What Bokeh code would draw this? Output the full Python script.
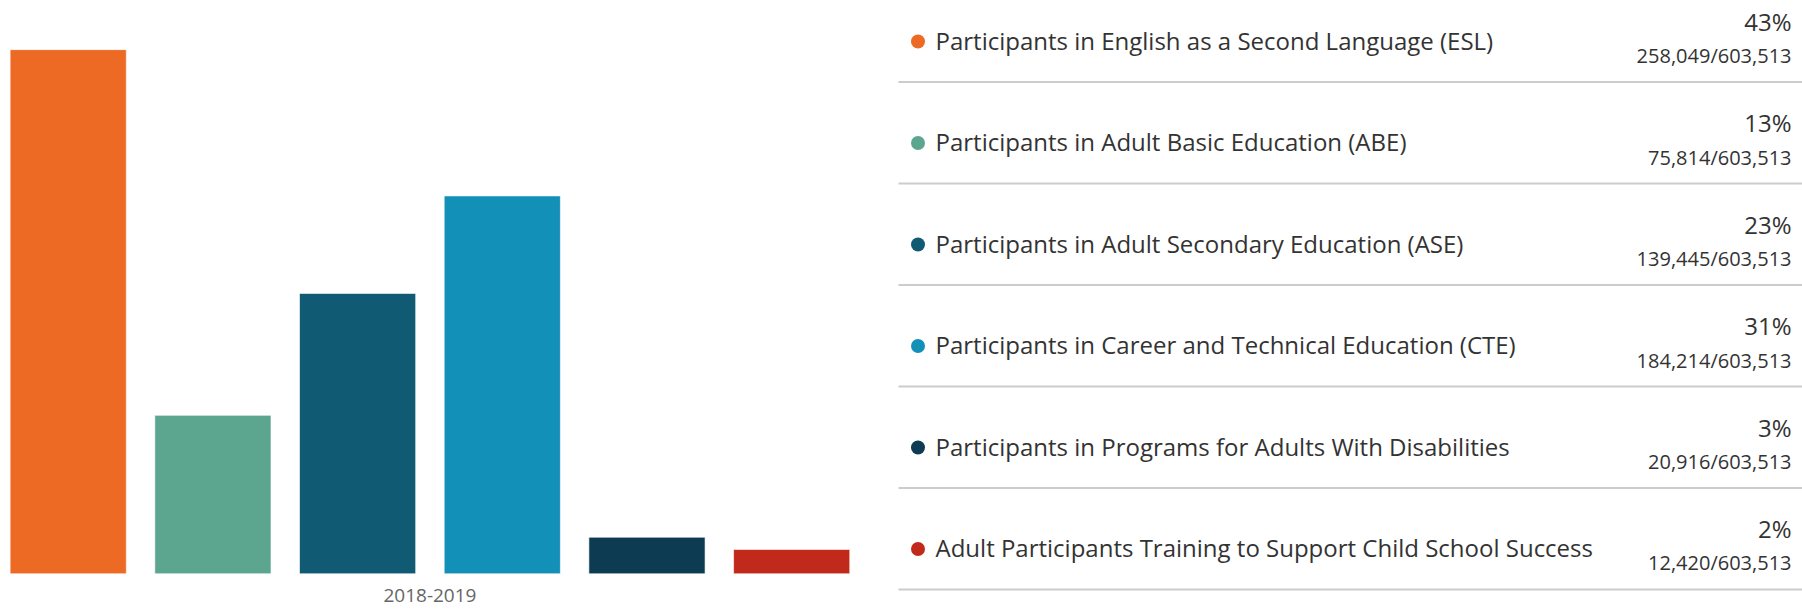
from bokeh.plotting import figure
from bokeh.layouts import row
from bokeh.models import ColumnDataSource, Range1d
from bokeh.core.properties import value
from bokeh.embed import file_html
from bokeh.resources import INLINE

# ---- data ----
categories = [
    "Participants in English as a Second Language (ESL)",
    "Participants in Adult Basic Education (ABE)",
    "Participants in Adult Secondary Education (ASE)",
    "Participants in Career and Technical Education (CTE)",
    "Participants in Programs for Adults With Disabilities",
    "Adult Participants Training to Support Child School Success",
]
percents = [43, 13, 23, 31, 3, 2]
counts = [258049, 75814, 139445, 184214, 20916, 12420]
total = 603513
period_label = "2018-2019"
colors = ["#EC6A23", "#5CA58F", "#105A73", "#1290B7", "#0D3B52", "#C12A1B"]

FONT = "Open Sans"

# ---- left: bar chart ----
n = len(categories)
idx = list(range(n))
bar_src = ColumnDataSource(dict(x=idx, top=percents, color=colors, name=categories))

left = figure(width=880, height=610, output_backend="svg", toolbar_location=None,
              x_range=Range1d(-0.468, 5.614), y_range=Range1d(-3.01, 47.03),
              min_border=0)
left.vbar(x="x", top="top", bottom=0, width=0.803, fill_color="color",
          line_color="white", line_width=1, line_alpha=0.6, source=bar_src)
left.grid.visible = False
left.axis.visible = False
left.outline_line_color = None
center = (idx[0] + idx[-1]) / 2
left.text(x=[center], y=[-1.80], text=[period_label], text_font=value(FONT),
          text_font_size="19px", text_color="#666666",
          text_align="center", text_baseline="middle")

# ---- right: legend table ----
right = figure(width=922, height=610, output_backend="svg", toolbar_location=None,
               x_range=Range1d(880, 1802), y_range=Range1d(6.207, 0.197),
               min_border=0)
right.axis.visible = False
right.grid.visible = False
right.outline_line_color = None

rows = [i for i in range(n)]
leg_src = ColumnDataSource(dict(
    r=rows,
    sep=[i + 1 for i in rows],
    dot_y=[i + 0.601 for i in rows],
    lab_y=[i + 0.59 for i in rows],
    pct_y=[i + 0.40 for i in rows],
    ratio_y=[i + 0.739 for i in rows],
    label=categories,
    pct=[f"{p}%" for p in percents],
    ratio=[f"{c:,}/{total:,}" for c in counts],
    color=colors,
))
right.segment(x0=898, x1=1802, y0="sep", y1="sep", line_color="#cccccc",
              line_width=2, source=leg_src)
right.scatter(x=917.5, y="dot_y", size=14, fill_color="color", line_color=None, source=leg_src)
right.text(x=935, y="lab_y", text="label", text_font=value(FONT), text_font_size="24px",
           text_baseline="middle", text_align="left", text_color="#333333", source=leg_src)
right.text(x=1791, y="pct_y", text="pct", text_font=value(FONT), text_font_size="24px",
           text_baseline="middle", text_align="right", text_color="#333333", source=leg_src)
right.text(x=1791, y="ratio_y", text="ratio", text_font=value(FONT), text_font_size="20px",
           text_baseline="middle", text_align="right", text_color="#333333", source=leg_src)

layout = row(left, right)
open("out.html", "w").write(file_html(layout, INLINE))
